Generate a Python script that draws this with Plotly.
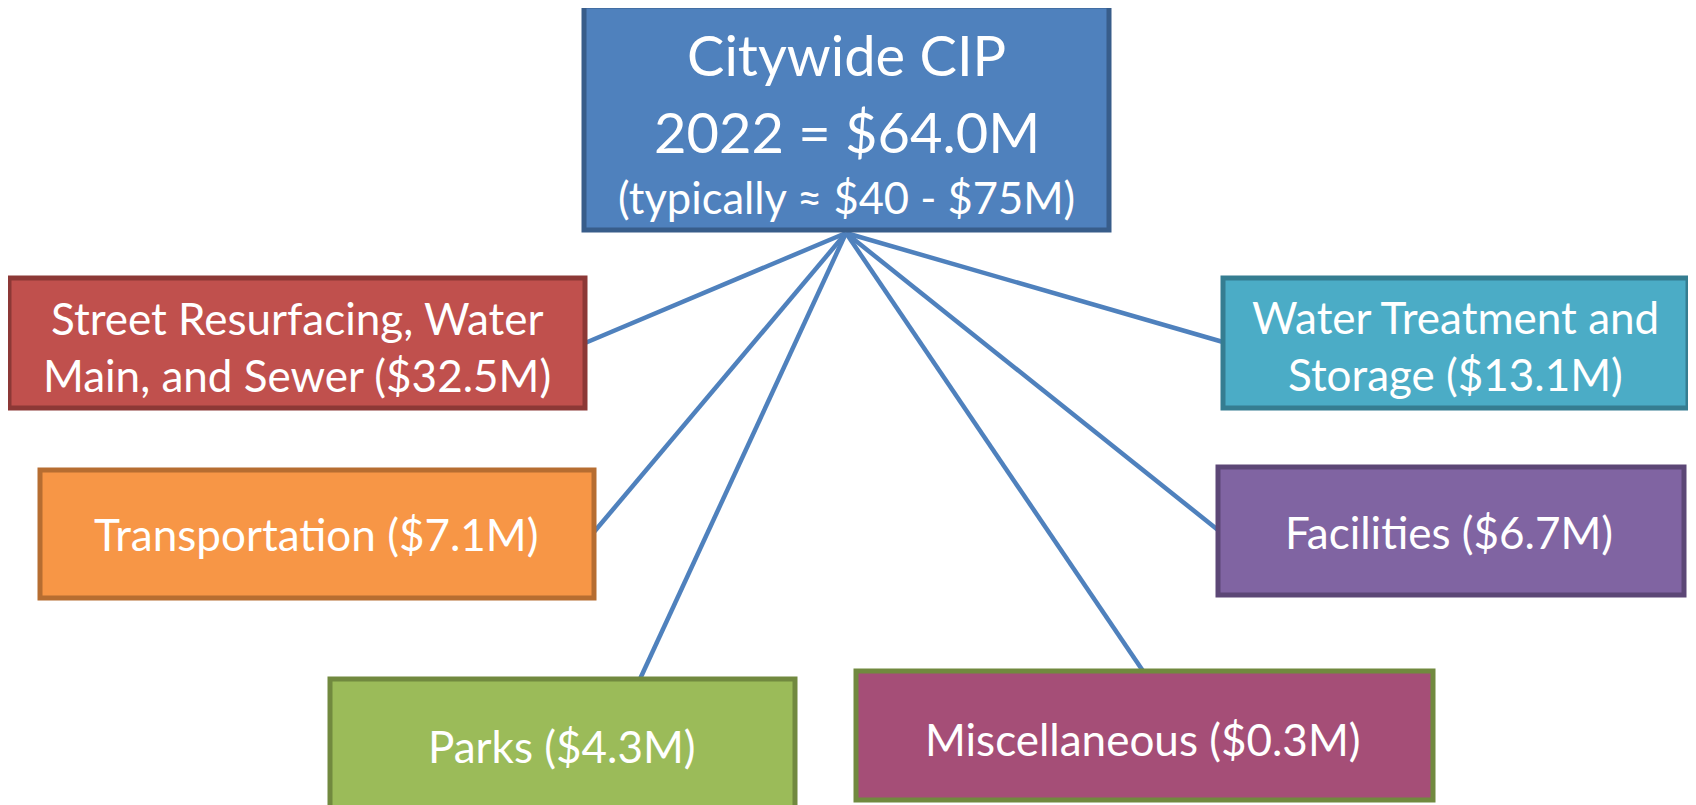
import plotly.graph_objects as go

# ---- data ----
year = 2022
total = 64.0
typical_low = 40
typical_high = 75

categories = ["Street Resurfacing, Water Main, and Sewer", "Transportation", "Parks",
              "Miscellaneous", "Facilities", "Water Treatment and Storage"]
values = [32.5, 7.1, 4.3, 0.3, 6.7, 13.1]
# words on first line when the label wraps (0 = no wrap)
wrap_after = [3, 0, 0, 0, 0, 3]

# ---- layout / style (pixels in a 1696x805 page) ----
W, H = 1696, 805
PAD = 8  # default page body margin
fills = ["#C0504D", "#F79646", "#9BBB59", "#A54E77", "#8064A2", "#4BACC6"]
borders = ["#8C3836", "#B66D31", "#71893F", "#71893F", "#5C4776", "#357D91"]
boxes = [(9, 278, 585, 408), (40, 470, 594, 598), (330, 679, 795, 812),
         (856, 671, 1433, 800), (1218, 467, 1684, 595), (1223, 278, 1688, 408)]
anchors = [(585, 343), (594, 532), (640, 679), (1143, 671), (1218, 530), (1223, 342)]
text_centers = [(297, 346), (316, 534), (562, 746), (1143, 739), (1449, 532), (1455, 345)]
hub = (846, 233)
center_box = (584, 6, 1109, 230)
FONT = "Lato, 'Open Sans', sans-serif"
side_size = 44
line_gap = 57

fig = go.Figure()

# connector lines
for (ax, ay) in anchors:
    fig.add_trace(go.Scatter(x=[hub[0], ax], y=[hub[1], ay], mode="lines",
                             line=dict(color="#4F81BD", width=4.5),
                             hoverinfo="skip", showlegend=False))

shapes = []
annotations = []

# center box
shapes.append(dict(type="rect", xref="x", yref="y", x0=center_box[0], y0=center_box[1],
                   x1=center_box[2], y1=center_box[3], fillcolor="#4F81BD",
                   line=dict(color="#385D8A", width=5), layer="above"))
cx = (center_box[0] + center_box[2]) / 2
for txt, y, size in [("Citywide CIP", 54, 56),
                     (f"{year} = ${total:.1f}M", 131, 56),
                     (f"(typically \u2248 ${typical_low} - ${typical_high}M)", 197, 43.5)]:
    annotations.append(dict(x=cx, y=y, xref="x", yref="y", text=txt, showarrow=False,
                            font=dict(family=FONT, size=size, color="white"),
                            xanchor="center", yanchor="middle"))

# category boxes
for i, (cat, val) in enumerate(zip(categories, values)):
    x0, y0, x1, y1 = boxes[i]
    shapes.append(dict(type="rect", xref="x", yref="y", x0=x0, y0=y0, x1=x1, y1=y1,
                       fillcolor=fills[i], line=dict(color=borders[i], width=5), layer="above"))
    full = f"{cat} (${val:.1f}M)"
    words = full.split(" ")
    if wrap_after[i]:
        lines = [" ".join(words[:wrap_after[i]]), " ".join(words[wrap_after[i]:])]
    else:
        lines = [full]
    tx, ty = text_centers[i]
    n = len(lines)
    for k, ln in enumerate(lines):
        yy = ty + (k - (n - 1) / 2) * line_gap
        annotations.append(dict(x=tx, y=yy, xref="x", yref="y", text=ln, showarrow=False,
                                font=dict(family=FONT, size=side_size, color="white"),
                                xanchor="center", yanchor="middle"))

fig.update_layout(
    width=W - PAD, height=H - PAD,
    margin=dict(l=0, r=0, t=0, b=0),
    paper_bgcolor="white", plot_bgcolor="white",
    xaxis=dict(range=[PAD, W], visible=False, fixedrange=True),
    yaxis=dict(range=[H, PAD], visible=False, fixedrange=True),
    shapes=shapes, annotations=annotations,
    showlegend=False,
)

fig.write_html("out.html", config={"displayModeBar": False})
